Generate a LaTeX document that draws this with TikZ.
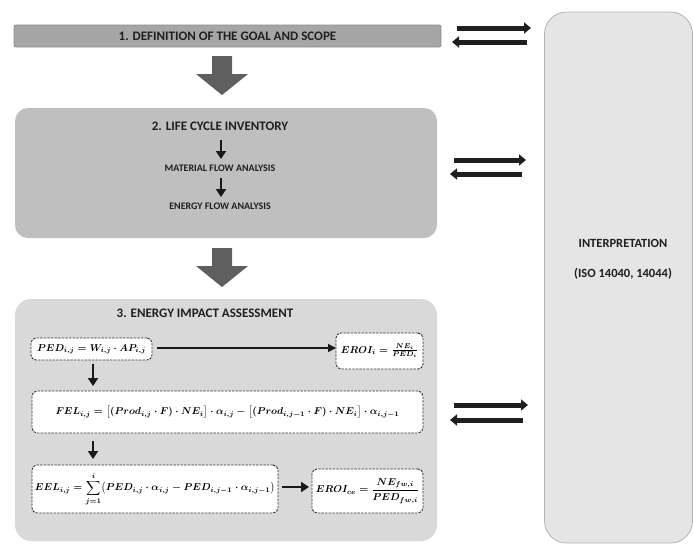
\documentclass[tikz,border=0pt]{standalone}
\usepackage{amsmath}
\usepackage{fontspec}
\setmainfont{Carlito}
\usetikzlibrary{arrows.meta}
\definecolor{boxone}{RGB}{166,166,166}
\definecolor{boxtwo}{RGB}{191,191,191}
\definecolor{boxthree}{RGB}{217,217,217}
\definecolor{interp}{RGB}{229,229,229}
\definecolor{bigarr}{RGB}{95,95,95}
\begin{document}
\begin{tikzpicture}[x=1pt,y=-1pt,
  titletxt/.style={font=\fontsize{13}{15}\selectfont\bfseries, text=black!88, inner sep=0},
  subtxt/.style={font=\fontsize{10}{12}\selectfont\bfseries, text=black!88, inner sep=0},
  formula/.style={draw=black!80, fill=white, dash pattern=on 2.4pt off 1.2pt, line width=0.9pt, rounded corners=5pt, inner sep=0, font=\fontsize{10}{12}\selectfont\boldmath},
  panel/.style={rounded corners=13pt, inner sep=0},
  smallarr/.style={-{Triangle[width=10pt,length=8pt]}, line width=2.6pt, black!90},
  thinarr/.style={-{Triangle[width=8pt,length=8pt]}, line width=1.5pt, black!90},
  dblarr/.style={-{Triangle[width=11pt,length=7pt]}, line width=5pt, black!88}
]
\useasboundingbox (0,0) rectangle (693,544);

% interpretation panel
\node[panel, rounded corners=22pt, draw=black!30, line width=0.8pt, fill=interp, minimum width=148pt, minimum height=531pt] (interp) at (618.5,277.5) {};
\node[titletxt, font=\fontsize{12.5}{15}\selectfont\bfseries] (interpt) at (623,243) {INTERPRETATION};
\node[titletxt, font=\fontsize{12.5}{15}\selectfont\bfseries] (iso) at (623,274) {(ISO 14040, 14044)};

% step 1
\node[draw=black!45, line width=0.8pt, fill=boxone, rounded corners=2pt, minimum width=427pt, minimum height=22pt, inner sep=0, font=\fontsize{13}{15}\selectfont\bfseries, text=black!88] (s1) at (227.5,36) {1. DEFINITION OF THE GOAL AND SCOPE};

% big arrow 1
\fill[bigarr] (212,56) -- (232,56) -- (232,74) -- (248,74) -- (222,95) -- (196,74) -- (212,74) -- cycle;

% step 2
\node[panel, fill=boxtwo, minimum width=422pt, minimum height=130pt] (s2) at (226,173) {};
\node[titletxt] (s2t) at (220,126) {2. LIFE CYCLE INVENTORY};
\node[subtxt] (mfa) at (220,168) {MATERIAL FLOW ANALYSIS};
\node[subtxt] (efa) at (220,206) {ENERGY FLOW ANALYSIS};
\coordinate (a1s) at (221,140);
\coordinate (a1e) at (221,159);
\coordinate (a2s) at (221,178);
\coordinate (a2e) at (221,197);
\draw[smallarr] (a1s) -- (a1e);
\draw[smallarr] (a2s) -- (a2e);

% big arrow 2
\fill[bigarr] (212,248) -- (232,248) -- (232,266) -- (248,266) -- (222,287) -- (196,266) -- (212,266) -- cycle;

% step 3
\node[panel, rounded corners=16pt, fill=boxthree, minimum width=422pt, minimum height=242pt] (s3) at (226,420) {};
\node[titletxt] (s3t) at (205,313) {3. ENERGY IMPACT ASSESSMENT};

\node[formula, minimum width=121pt, minimum height=22pt] (ped) at (91.5,349)
  {$PED_{i,j} = W_{i,j}\cdot AP_{i,j}$};
\node[formula, minimum width=87pt, minimum height=36pt] (eroi) at (379.5,351)
  {$EROI_i = \tfrac{NE_i}{PED_i}$};
\node[formula, minimum width=391pt, minimum height=42pt] (fel) at (227.5,412)
  {$FEL_{i,j} = \bigl[(Prod_{i,j}\cdot F)\cdot NE_i\bigr]\cdot \alpha_{i,j} - \bigl[(Prod_{i,j-1}\cdot F)\cdot NE_i\bigr]\cdot \alpha_{i,j-1}$};
\node[formula, minimum width=246pt, minimum height=48pt, font=\fontsize{9.6}{12}\selectfont\boldmath] (eel) at (155,489)
  {$\displaystyle EEL_{i,j} = \sum_{j=1}^{i}\bigl(PED_{i,j}\cdot \alpha_{i,j} - PED_{i,j-1}\cdot \alpha_{i,j-1}\bigr)$};
\node[formula, minimum width=111pt, minimum height=44pt] (eroice) at (367.5,491)
  {$\displaystyle EROI_{ce} = \frac{NE_{fw,i}}{PED_{fw,i}}$};

\coordinate (pa) at (157,348);
\coordinate (pb) at (336,348);
\coordinate (d1s) at (93,364);
\coordinate (d1e) at (93,386);
\coordinate (d2s) at (93,441);
\coordinate (d2e) at (93,459);
\coordinate (ea) at (282,487);
\coordinate (eb) at (309,487);
\draw[thinarr] (pa) -- (pb);
\draw[smallarr] (d1s) -- (d1e);
\draw[smallarr] (d2s) -- (d2e);
\draw[smallarr, line width=2.4pt] (ea) -- (eb);

% double arrows
\coordinate (r1s) at (457,28); \coordinate (r1e) at (531,28);
\coordinate (l1s) at (527,42); \coordinate (l1e) at (452,42);
\coordinate (r2s) at (454,160); \coordinate (r2e) at (526,160);
\coordinate (l2s) at (522,174); \coordinate (l2e) at (450,174);
\coordinate (r3s) at (454,405); \coordinate (r3e) at (528,405);
\coordinate (l3s) at (523,420); \coordinate (l3e) at (450,420);
\draw[dblarr] (r1s) -- (r1e);
\draw[dblarr] (l1s) -- (l1e);
\draw[dblarr] (r2s) -- (r2e);
\draw[dblarr] (l2s) -- (l2e);
\draw[dblarr] (r3s) -- (r3e);
\draw[dblarr] (l3s) -- (l3e);
\end{tikzpicture}
\end{document}
